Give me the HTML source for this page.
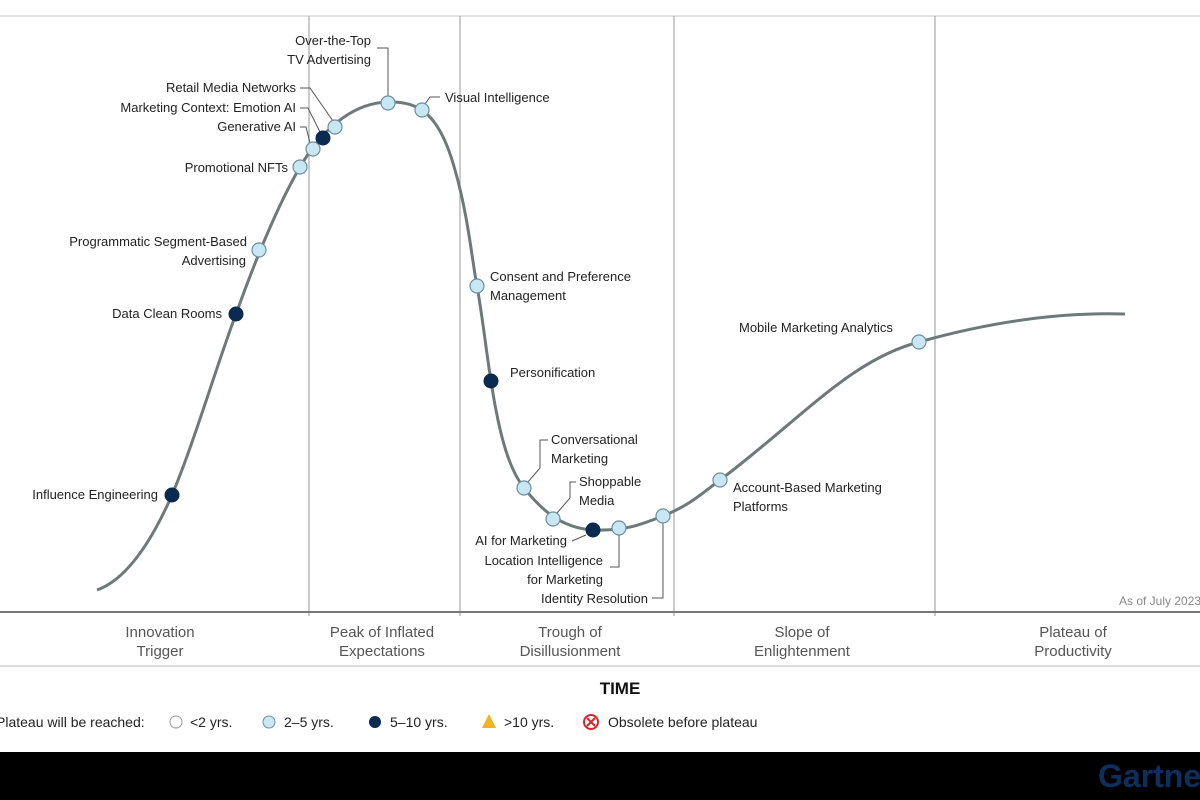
<!DOCTYPE html>
<html><head><meta charset="utf-8"><style>
html,body{margin:0;padding:0;background:#fff;}
svg{display:block;font-family:"Liberation Sans",sans-serif;}
</style></head><body>
<svg width="1200" height="800" viewBox="0 0 1200 800">
<rect width="1200" height="800" fill="#fff"/>
<line x1="0" y1="16" x2="1200" y2="16" stroke="#e2e2e2" stroke-width="2"/>
<g stroke="#a8a8a8" stroke-width="1.2">
<line x1="309" y1="16" x2="309" y2="616"/>
<line x1="460" y1="16" x2="460" y2="616"/>
<line x1="674" y1="16" x2="674" y2="616"/>
<line x1="935" y1="16" x2="935" y2="616"/>
</g>
<line x1="0" y1="612" x2="1200" y2="612" stroke="#777" stroke-width="2"/>
<line x1="0" y1="666" x2="1200" y2="666" stroke="#ddd" stroke-width="2"/>
<path d="M97,590 C125,580 150,545 172,495 C195,440 215,370 236,314 C250,275 275,210 300,167 C320,133 350,103 388,102 C420,101 440,115 455,170 C468,215 472,260 477,286 C483,320 486,350 491,381 C500,440 510,470 524,488 C540,508 560,528 593,530 C625,531 640,525 663,516 C690,505 700,495 720,480 C800,420 850,360 919,342 C990,322 1060,312 1125,314" fill="none" stroke="#6e7a7a" stroke-width="3"/>
<g fill="none" stroke="#555" stroke-width="1">
<polyline points="377,48 388,48 388,96"/>
<polyline points="300,88 310,88 333,121"/>
<polyline points="300,108 308,108 320,132"/>
<polyline points="300,127 306,127 310,143"/>
<polyline points="440,97 430,97 425,104"/>
<polyline points="528,482 540,468 540,440 548,440"/>
<polyline points="557,513 570,498 570,482 576,482"/>
<polyline points="572,541 586,535"/>
<polyline points="619,535 619,567 610,567"/>
<polyline points="652,598 663,598 663,523"/>
</g>
<g stroke="#6f8f9c" stroke-width="1.2" fill="#c8e6f3">
<circle cx="300" cy="167" r="7"/><circle cx="313" cy="149" r="7"/><circle cx="335" cy="127" r="7"/>
<circle cx="388" cy="103" r="7"/><circle cx="422" cy="110" r="7"/><circle cx="259" cy="250" r="7"/>
<circle cx="477" cy="286" r="7"/><circle cx="524" cy="488" r="7"/><circle cx="553" cy="519" r="7"/>
<circle cx="619" cy="528" r="7"/><circle cx="663" cy="516" r="7"/><circle cx="720" cy="480" r="7"/>
<circle cx="919" cy="342" r="7"/>
</g>
<g fill="#0b2a4f" stroke="#0b2a4f">
<circle cx="323" cy="138" r="7"/><circle cx="236" cy="314" r="7"/><circle cx="172" cy="495" r="7"/>
<circle cx="491" cy="381" r="7"/><circle cx="593" cy="530" r="7"/>
</g>
<g font-size="13" fill="#222">
<g text-anchor="end">
<text x="371" y="45">Over-the-Top</text><text x="371" y="64">TV Advertising</text>
<text x="296" y="92">Retail Media Networks</text>
<text x="296" y="112">Marketing Context: Emotion AI</text>
<text x="296" y="131">Generative AI</text>
<text x="288" y="172">Promotional NFTs</text>
<text x="247" y="246">Programmatic Segment-Based</text><text x="246" y="265">Advertising</text>
<text x="222" y="318">Data Clean Rooms</text>
<text x="158" y="499">Influence Engineering</text>
<text x="567" y="545">AI for Marketing</text>
<text x="603" y="565">Location Intelligence</text><text x="603" y="584">for Marketing</text>
<text x="648" y="603">Identity Resolution</text>
</g>
<text x="445" y="102">Visual Intelligence</text>
<text x="490" y="281">Consent and Preference</text><text x="490" y="300">Management</text>
<text x="510" y="377">Personification</text>
<text x="551" y="444">Conversational</text><text x="551" y="463">Marketing</text>
<text x="579" y="486">Shoppable</text><text x="579" y="505">Media</text>
<text x="733" y="492">Account-Based Marketing</text><text x="733" y="511">Platforms</text>
<text x="739" y="332">Mobile Marketing Analytics</text>
</g>
<text x="1119" y="605" font-size="12" fill="#888">As of July 2023</text>
<g font-size="15" fill="#555" text-anchor="middle">
<text x="160" y="637">Innovation</text><text x="160" y="656">Trigger</text>
<text x="382" y="637">Peak of Inflated</text><text x="382" y="656">Expectations</text>
<text x="570" y="637">Trough of</text><text x="570" y="656">Disillusionment</text>
<text x="802" y="637">Slope of</text><text x="802" y="656">Enlightenment</text>
<text x="1073" y="637">Plateau of</text><text x="1073" y="656">Productivity</text>
</g>
<text x="620" y="694" font-size="17" font-weight="bold" text-anchor="middle" fill="#111">TIME</text>
<g font-size="14" fill="#222">
<text x="-4" y="727">Plateau will be reached:</text>
<circle cx="176" cy="722" r="6" fill="#fff" stroke="#999"/>
<text x="190" y="727">&lt;2 yrs.</text>
<circle cx="269" cy="722" r="6" fill="#c8e6f3" stroke="#6f8f9c"/>
<text x="284" y="727">2–5 yrs.</text>
<circle cx="375" cy="722" r="6" fill="#0b2a4f"/>
<text x="390" y="727">5–10 yrs.</text>
<polygon points="489,714 496,728 482,728" fill="#f0b323"/>
<text x="504" y="727">&gt;10 yrs.</text>
<circle cx="591" cy="722" r="7" fill="#fff" stroke="#d9262c" stroke-width="2"/>
<path d="M587,718 L595,726 M595,718 L587,726" stroke="#d9262c" stroke-width="2"/>
<text x="608" y="727">Obsolete before plateau</text>
</g>
<rect x="0" y="752" width="1200" height="48" fill="#000"/>
<text x="1098" y="787" font-size="32" font-weight="bold" fill="#0c2f5c">Gartner</text>
</svg>
</body></html>
